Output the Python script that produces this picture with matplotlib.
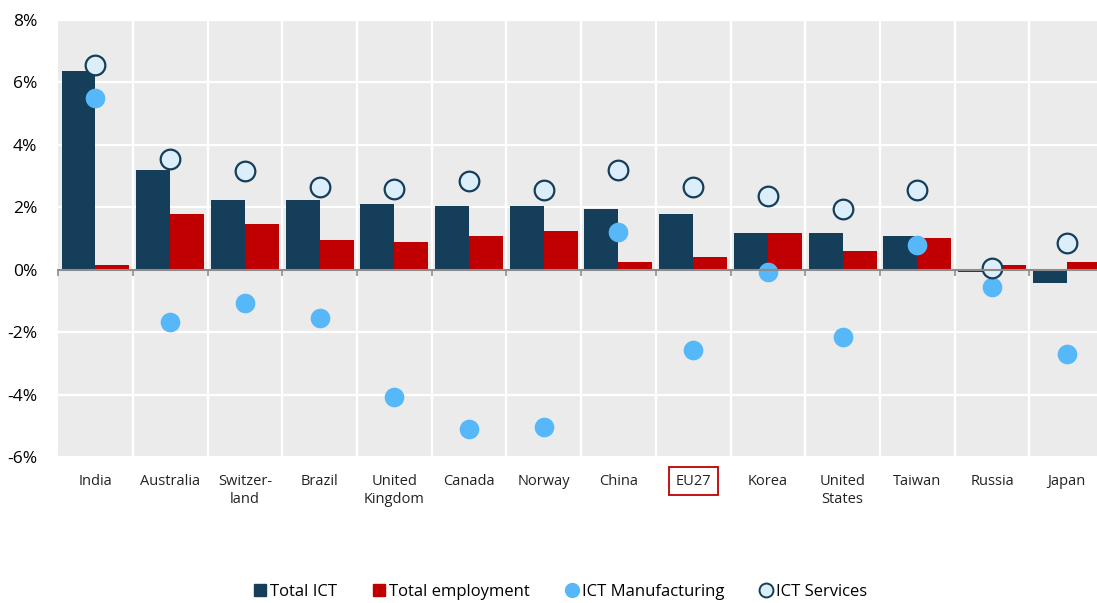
import matplotlib.pyplot as plt
import numpy as np
from matplotlib.lines import Line2D
from matplotlib.transforms import blended_transform_factory

plt.rcParams["font.family"] = ["Open Sans", "DejaVu Sans"]

countries = ["India", "Australia", "Switzer-\nland", "Brazil", "United\nKingdom", "Canada", "Norway",
             "China", "EU27", "Korea", "United\nStates", "Taiwan", "Russia", "Japan"]
total_ict = [6.37, 3.18, 2.22, 2.22, 2.09, 2.03, 2.03, 1.93, 1.80, 1.19, 1.16, 1.09, -0.08, -0.42]
total_emp = [0.15, 1.80, 1.45, 0.96, 0.90, 1.09, 1.25, 0.26, 0.42, 1.19, 0.61, 1.03, 0.15, 0.26]
ict_manuf = [5.50, -1.67, -1.06, -1.54, -4.08, -5.11, -5.05, 1.22, -2.57, -0.06, -2.15, 0.80, -0.55, -2.70]
ict_serv = [6.56, 3.54, 3.15, 2.64, 2.60, 2.83, 2.54, 3.18, 2.64, 2.35, 1.93, 2.54, 0.07, 0.84]
yticks = [-6, -4, -2, 0, 2, 4, 6, 8]

NAVY = "#143E5A"
RED = "#C00000"
LBLUE = "#56B8F9"
SFILL = "#DDEEFB"

x = np.arange(len(countries))
w = 0.455

fig = plt.figure(figsize=(10.97, 6.03), dpi=100)
# plot area runs past the right edge of the picture, like the original
ax = fig.add_axes([0.053, 0.242, 0.9535, 0.725])
ax.set_facecolor("#EBEBEB")

ax.bar(x - w / 2, total_ict, w, color=NAVY, zorder=3)
ax.bar(x + w / 2, total_emp, w, color=RED, zorder=3)
ax.scatter(x, ict_manuf, s=200, color=LBLUE, zorder=4, linewidths=0)
ax.scatter(x, ict_serv, s=200, color=SFILL, edgecolors=NAVY, linewidths=1.6, zorder=5)

ax.set_xlim(-0.5, len(countries) - 0.5)
ax.set_ylim(-6, 8)
ax.set_yticks(yticks)
ax.set_yticklabels([f"{v}%" for v in yticks], fontsize=12.5)
ax.tick_params(axis="y", length=0, pad=15)

# grid: horizontal and vertical (category boundaries)
for v in yticks:
    ax.axhline(v, color="white", lw=1.6, zorder=1)
for b in np.arange(0.5, len(countries) - 0.5):
    ax.axvline(b, color="white", lw=1.6, zorder=1)

for s in ["top", "right", "left"]:
    ax.spines[s].set_visible(False)
ax.spines["bottom"].set_position(("data", 0))
ax.spines["bottom"].set_color("#8C8C8C")
ax.spines["bottom"].set_linewidth(1.5)
ax.spines["bottom"].set_zorder(6)
ax.set_xticks(np.arange(-0.5, len(countries)))
ax.set_xticklabels([])
ax.tick_params(axis="x", direction="out", length=4, color="#8C8C8C", width=1.2)

tr = blended_transform_factory(ax.transData, ax.transAxes)
for i, c in enumerate(countries):
    kw = {}
    if c == "EU27":
        kw["bbox"] = dict(boxstyle="square,pad=0.45", facecolor="white", edgecolor=RED, lw=1.3)
    ax.text(i, -0.038, c, transform=tr, ha="center", va="top", fontsize=10.5,
            color="#222222", linespacing=1.3, **kw)

handles = [
    Line2D([], [], marker="s", ls="", color=NAVY, markersize=9),
    Line2D([], [], marker="s", ls="", color=RED, markersize=9),
    Line2D([], [], marker="o", ls="", color=LBLUE, markersize=10),
    Line2D([], [], marker="o", ls="", markerfacecolor=SFILL, markeredgecolor=NAVY, markeredgewidth=1.4, markersize=10),
]
labels = ["Total ICT", "Total employment", "ICT Manufacturing", "ICT Services"]
fig.legend(handles, labels, loc="center", bbox_to_anchor=(0.51, 0.018), ncol=4, frameon=False,
           fontsize=12, handletextpad=0.1, columnspacing=2.0, handlelength=1.0)

fig.savefig("out.png", dpi=100)
